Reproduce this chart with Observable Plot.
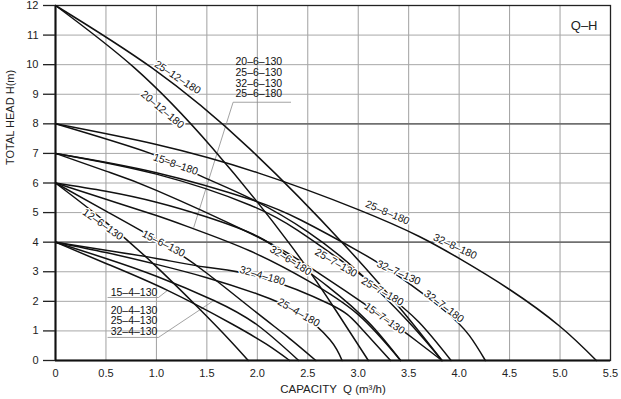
<!DOCTYPE html>
<html><head><meta charset="utf-8">
<script src="https://cdn.jsdelivr.net/npm/d3@7"></script>
<script src="https://cdn.jsdelivr.net/npm/@observablehq/plot@0.6"></script>
<style>
body{margin:0;background:#fff}
svg{font-family:"Liberation Sans",Arial,sans-serif}
</style>
</head><body><div id="chart"></div>
<script>
// ---- Data: pump curves (Q in m3/h, H in m) ----
const curveIds = ["25-12-180","20-12-180","8-180","15-8-180","25-7","32-7","15-7-130",
  "12-6-130","15-6-130","x-6-130","32-6-180","15-4-130","x-4-130","32-4-180","25-4-180"];
const curveQ = [
  [0,0.96,1.92,2.87,3.45,3.83],
  [0,0.78,1.55,2.33,2.79,3.10],
  [0,1,2,3,3.6,4,4.5,5,5.36],
  [0,0.94,1.4,1.93,2.5,3.0,3.5,3.83],
  [0,1,1.93,2.4,2.78,3.24,3.6,3.92],
  [0,1,1.93,2.43,3.0,3.4,3.85,4.1,4.26],
  [0,0.5,1,1.93,2.5,3.26,3.6,3.83],
  [0,0.48,0.96,1.43,1.72,1.91],
  [0,0.5,1.07,1.5,2.0,2.3,2.58],
  [0,0.5,1.0,1.37,1.93,2.5,3.0,3.42],
  [0,0.5,1,1.5,2.0,2.33,2.7,3.1,3.42],
  [0,0.5,1.11,1.74,2.09,2.32],
  [0,0.5,1.0,1.57,2.0,2.41],
  [0,0.5,1.0,1.5,2.05,2.72,3.0,3.32],
  [0,0.5,1.0,1.5,2.0,2.41,2.72,2.84]
];
const curveH = [
  [12,9.88,7.17,3.88,1.62,0],
  [12,9.9,7.2,3.9,1.63,0],
  [8,7.3,6.35,5.1,4.2,3.45,2.4,1.15,0],
  [8,7.0,6.3,5.48,4.35,3.0,1.3,0],
  [7,6.3,5.25,4.4,3.5,2.35,1.3,0],
  [7,6.35,5.45,4.75,3.7,2.85,1.7,0.85,0],
  [7,6.4,5.75,4.3,3.2,1.45,0.6,0],
  [6,4.73,3.3,1.73,0.71,0],
  [6,5.05,3.95,2.95,1.6,0.8,0],
  [6,5.45,4.9,4.45,3.7,2.7,1.55,0],
  [6,5.72,5.35,4.85,4.2,3.45,2.5,1.3,0],
  [4,3.28,2.37,1.25,0.55,0],
  [4,3.45,2.85,2.03,1.2,0],
  [4,3.73,3.45,3.15,2.8,1.9,1.2,0],
  [4,3.65,3.25,2.8,2.25,1.62,0.7,0]
];
// labels along curves
const labelText = ["25–12–180","20–12–180","15–8–180","25–8–180","32–8–180","12–6–130","15–6–130",
  "32–6–180","25–7–130","25–7–180","15–7–130","32–7–130","32–7–180","32–4–180","25–4–180"];
const labelQ = [1.21,1.06,1.19,3.29,3.96,0.47,1.07,2.33,2.78,3.24,3.26,3.40,3.85,2.05,2.41];
const labelH = [9.57,8.48,6.63,5.0,3.85,4.6,3.95,3.38,3.3,2.33,1.42,2.97,1.83,2.87,1.62];
const labelAngle = [33,40,19,23,25,35,27,32,30,30,35,24,37,16,30];
// grouped (horizontal) labels
const groupText = ["20–6–130\n25–6–130\n32–6–130\n25–6–180","15–4–130","20–4–130\n25–4–130\n32–4–130"];
const groupQ = [2.015,0.778,0.778];
const groupH = [9.55,2.30,1.335];
// leader lines
const leaderId = [0,0,0,1,1,1,2,2,2];
const leaderQ = [2.33,1.76,1.37, 0.52,1.02,1.11, 0.52,1.02,1.57];
const leaderH = [8.73,8.73,4.5, 2.13,2.13,2.37, 0.78,0.78,2.03];
// ticks
const xTicks = [0,0.5,1,1.5,2,2.5,3,3.5,4,4.5,5,5.5];
const xTickLabels = ["0","0.5","1.0","1.5","2.0","2.5","3.0","3.5","4.0","4.5","5.0","5.5"];
const yTicks = [0,1,2,3,4,5,6,7,8,9,10,11,12];

// ---- build tables ----
const pts = [];
curveIds.forEach((id,i)=>curveQ[i].forEach((q,j)=>pts.push({id, q, h: curveH[i][j]})));
const labels = labelText.map((t,i)=>({t, q: labelQ[i], h: labelH[i], a: labelAngle[i]}));
const groups = groupText.map((t,i)=>({t, q: groupQ[i], h: groupH[i]}));
const leaders = leaderId.map((id,i)=>({id, q: leaderQ[i], h: leaderH[i]}));

const chart = Plot.plot({
  width: 621, height: 399,
  marginLeft: 55, marginRight: 11, marginTop: 5, marginBottom: 39,
  style: {fontFamily: "'Liberation Sans', Arial, sans-serif", fontSize: "11px", color: "#222"},
  x: {domain: [0,5.5]},
  y: {domain: [0,12]},
  marks: [
    Plot.gridX(xTicks, {stroke: "#a0a0a0", strokeOpacity: 1, strokeWidth: 1}),
    Plot.gridY(yTicks, {stroke: (d)=> (d===4||d===8) ? "#707070" : "#a8a8a8", strokeOpacity: 1, strokeWidth: (d)=>(d===4||d===8)?1.6:1}),
    Plot.frame({stroke: "#222", strokeWidth: 1.3}),
    Plot.line(leaders, {x: "q", y: "h", z: "id", stroke: "#8a8a8a", strokeWidth: 0.8}),
    Plot.line(pts, {x: "q", y: "h", z: "id", curve: "natural", stroke: "#111", strokeWidth: 1.5}),
    Plot.text(labels, {x: "q", y: "h", text: "t", rotate: "a", fontSize: 10.5, fill: "#111",
      stroke: "white", strokeWidth: 3, paintOrder: "stroke"}),
    Plot.text(groups, {x: "q", y: "h", text: "t", fontSize: 10.5, lineHeight: 1.02, fill: "#111"}),
    Plot.ruleX([0], {stroke: "#111", strokeWidth: 2}),
    Plot.ruleY([0], {stroke: "#111", strokeWidth: 2}),
    Plot.axisY(yTicks, {tickSize: 12, tickPadding: 5, stroke: "#222", strokeWidth: 1.3, fontSize: 11, label: null}),
    Plot.axisX(xTicks, {tickSize: 0, tickPadding: 9, tickFormat: (d,i)=>xTickLabels[i], fontSize: 11,
      label: null}),
    Plot.text(["CAPACITY  Q (m³/h)"], {frameAnchor: "bottom", dy: 32, fontSize: 11.5, fill: "#222"}),
    Plot.text(["TOTAL HEAD H(m)"], {frameAnchor: "left", dx: -45, dy: -18, rotate: -90, fontSize: 11, fill: "#222"}),
    Plot.text(["Q–H"], {frameAnchor: "top-right", dx: -13, dy: 15, fontSize: 13, fill: "#222"})
  ]
});
document.getElementById("chart").appendChild(chart);
</script>
</body></html>
